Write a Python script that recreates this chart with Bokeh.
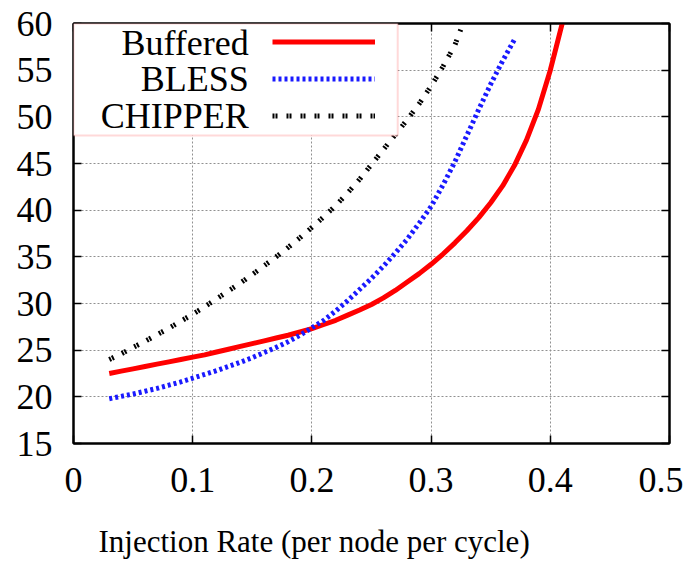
from bokeh.plotting import figure
from bokeh.models import (LinearAxis, Range1d, Legend, LegendItem, Label,
                          BoxAnnotation, FixedTicker, Title)
from bokeh.embed import file_html
from bokeh.resources import INLINE

# ---- data ----
x_buffered = [0.03, 0.04, 0.05, 0.06, 0.07, 0.08, 0.09, 0.10, 0.11, 0.12, 0.13,
              0.14, 0.15, 0.16, 0.17, 0.18, 0.19, 0.20, 0.21, 0.22, 0.23, 0.24,
              0.25, 0.26, 0.27, 0.28, 0.29, 0.30, 0.31, 0.32, 0.33, 0.34, 0.35,
              0.36, 0.37, 0.38, 0.39, 0.40, 0.405, 0.41]
y_buffered = [22.5, 22.75, 23.0, 23.25, 23.5, 23.75, 24.0, 24.25, 24.5, 24.8,
              25.1, 25.4, 25.7, 26.0, 26.3, 26.6, 26.95, 27.3, 27.75, 28.2,
              28.75, 29.3, 29.9, 30.6, 31.4, 32.3, 33.2, 34.2, 35.3, 36.5,
              37.8, 39.2, 40.8, 42.6, 44.8, 47.5, 50.8, 55.0, 57.5, 60.0]

x_bless = [0.03, 0.04, 0.05, 0.06, 0.07, 0.08, 0.09, 0.10, 0.11, 0.12, 0.13,
           0.14, 0.15, 0.16, 0.17, 0.18, 0.19, 0.20, 0.21, 0.22, 0.23, 0.24,
           0.25, 0.26, 0.27, 0.28, 0.29, 0.30, 0.31, 0.32, 0.33, 0.34, 0.35,
           0.36, 0.37]
y_bless = [19.8, 20.05, 20.3, 20.6, 20.9, 21.25, 21.6, 22.0, 22.4, 22.8, 23.25,
           23.7, 24.2, 24.75, 25.3, 25.9, 26.6, 27.4, 28.2, 29.2, 30.3, 31.5,
           32.7, 34.0, 35.4, 36.9, 38.6, 40.4, 42.7, 45.2, 48.0, 50.8, 53.5,
           56.0, 58.3]

x_chipper = [0.03, 0.04, 0.05, 0.06, 0.07, 0.08, 0.09, 0.10, 0.11, 0.12, 0.13,
             0.14, 0.15, 0.16, 0.17, 0.18, 0.19, 0.20, 0.21, 0.22, 0.23, 0.24,
             0.25, 0.26, 0.27, 0.28, 0.29, 0.30, 0.31, 0.32, 0.325]
y_chipper = [24.0, 24.6, 25.3, 25.95, 26.65, 27.35, 28.1, 28.85, 29.65, 30.5,
             31.35, 32.2, 33.1, 34.05, 35.0, 36.0, 37.05, 38.15, 39.3, 40.5,
             41.85, 43.3, 44.9, 46.5, 48.1, 49.7, 51.4, 53.3, 55.4, 57.7, 59.4]

series_names = ["Buffered", "BLESS", "CHIPPER"]
x_ticks = [0, 0.1, 0.2, 0.3, 0.4, 0.5]
x_tick_labels = {0: "0", 0.1: "0.1", 0.2: "0.2", 0.3: "0.3", 0.4: "0.4", 0.5: "0.5"}
y_ticks = [15, 20, 25, 30, 35, 40, 45, 50, 55, 60]
x_label = "Injection Rate (per node per cycle)"

FONT = "Liberation Serif"

p = figure(frame_width=596, frame_height=420,
           min_border_left=73, min_border_right=14,
           min_border_top=23, min_border_bottom=90,
           x_range=Range1d(0, 0.5), y_range=Range1d(15, 60),
           output_backend="svg", toolbar_location=None)
p.background_fill_color = "white"
p.border_fill_color = "white"
p.outline_line_color = "black"
p.outline_line_width = 2

# grid
for g in (p.xgrid, p.ygrid):
    g.grid_line_color = "#909090"
    g.grid_line_dash = "2 2"
    g.grid_line_width = 1
p.xgrid.ticker = FixedTicker(ticks=x_ticks)
p.ygrid.ticker = FixedTicker(ticks=y_ticks)

# main axes
xa = p.xaxis[0]
ya = p.yaxis[0]
xa.ticker = FixedTicker(ticks=x_ticks)
xa.major_label_overrides = x_tick_labels
ya.ticker = FixedTicker(ticks=y_ticks)
for ax in (xa, ya):
    ax.major_tick_in = 8
    ax.major_tick_out = 0
    ax.minor_tick_line_color = None
    ax.axis_line_width = 2
    ax.major_tick_line_width = 1.5
    ax.major_label_text_font = FONT
    ax.major_label_text_font_size = "36px"
    ax.major_label_text_color = "black"
xa.major_label_standoff = 24
ya.major_label_standoff = 21

# mirrored axes (ticks only, no labels)
top = LinearAxis(ticker=FixedTicker(ticks=x_ticks),
                 major_label_overrides={t: "" for t in x_ticks})
right = LinearAxis(ticker=FixedTicker(ticks=y_ticks),
                   major_label_overrides={t: "" for t in y_ticks})
for ax in (top, right):
    ax.major_tick_in = 8
    ax.major_tick_out = 0
    ax.minor_tick_line_color = None
    ax.axis_line_width = 2
    ax.major_tick_line_width = 1.5
    ax.major_label_standoff = 0
p.add_layout(top, "above")
p.add_layout(right, "right")

# x-axis title (offset to the left as in the reference)
xtitle = Title(text=x_label, align="left", offset=25, standoff=55,
               text_font=FONT, text_font_size="31px",
               text_font_style="normal", text_color="black")
p.add_layout(xtitle, "below")

# lines
r_buf = p.line(x_buffered, y_buffered, line_color="#ff0000", line_width=5)
r_bless = p.line(x_bless, y_bless, line_color="#1a1aff", line_width=5,
                 line_dash="3 3")
r_chip = p.line(x_chipper, y_chipper, line_color="black", line_width=5,
                line_dash="2 1 2 9")

# legend box
box = BoxAnnotation(left=0, right=0.272, top=60, bottom=48.0,
                    fill_color="white", fill_alpha=1.0,
                    line_color="#ff8080", line_width=2)
p.add_layout(box)

legend_rows_y = [57.96, 54.1, 50.14]
for name, yy in zip(series_names, legend_rows_y):
    p.add_layout(Label(x=0.147, y=yy, text=name, text_align="right",
                       text_baseline="middle", text_font=FONT,
                       text_font_size="36px", text_color="black"))

legend = Legend(items=[LegendItem(label=" ", renderers=[r]) for r in
                       (r_buf, r_bless, r_chip)],
                location=(199, 309), orientation="vertical",
                padding=0, margin=0, spacing=0,
                glyph_width=103, glyph_height=37,
                label_width=0, label_height=37, label_standoff=0,
                label_text_font_size="1px",
                border_line_alpha=0, background_fill_alpha=0)
p.add_layout(legend, "center")

open("out.html", "w").write(file_html(p, INLINE))
